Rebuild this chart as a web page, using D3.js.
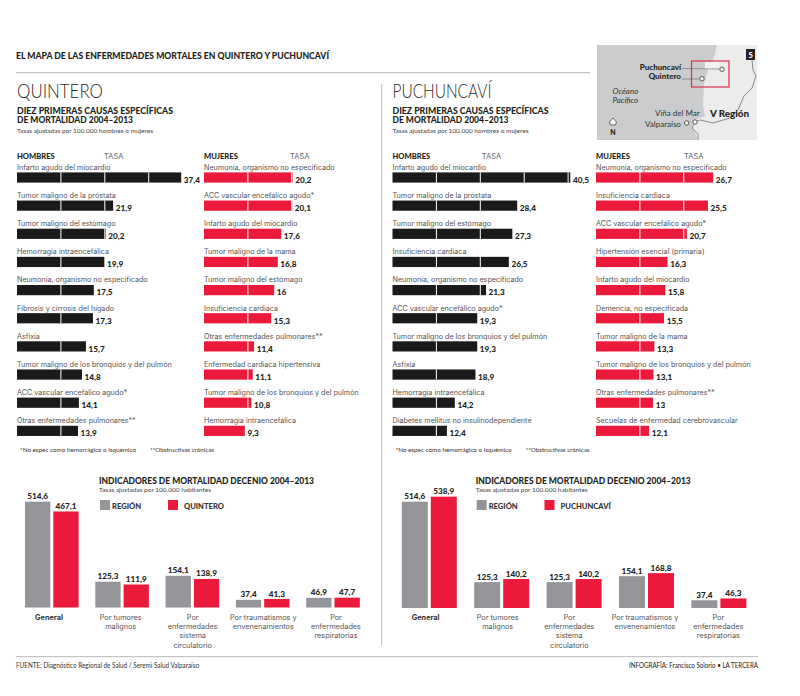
<!DOCTYPE html>
<html><head><meta charset="utf-8">
<script src="https://cdn.jsdelivr.net/npm/d3@7"></script>
<style>html,body{margin:0;padding:0;background:#fff}svg{display:block}text{font-family:Lato,sans-serif}</style>
</head><body><svg id="c" width="800" height="696"></svg>
<script>
const quinteroHombresCausas=["Infarto agudo del miocardio","Tumor maligno de la próstata","Tumor maligno del estómago","Hemorragia intraencefálica","Neumonía, organismo no especificado","Fibrosis y cirrosis del hígado","Asfixia","Tumor maligno de los bronquios y del pulmón","ACC vascular encefálico agudo*","Otras enfermedades pulmonares**"];
const quinteroHombresTasa=[37.4,21.9,20.2,19.9,17.5,17.3,15.7,14.8,14.1,13.9];
const quinteroMujeresCausas=["Neumonía, organismo no especificado","ACC vascular encefálico agudo*","Infarto agudo del miocardio","Tumor maligno de la mama","Tumor maligno del estómago","Insuficiencia cardiaca","Otras enfermedades pulmonares**","Enfermedad cardiaca hipertensiva","Tumor maligno de los bronquios y del pulmón","Hemorragia intraencefálica"];
const quinteroMujeresTasa=[20.2,20.1,17.6,16.8,16,15.3,11.4,11.1,10.8,9.3];
const puchuncaviHombresCausas=["Infarto agudo del miocardio","Tumor maligno de la próstata","Tumor maligno del estómago","Insuficiencia cardiaca","Neumonía, organismo no especificado","ACC vascular encefálico agudo*","Tumor maligno de los bronquios y del pulmón","Asfixia","Hemorragia intraencefálica","Diabetes mellitus no insulinodependiente"];
const puchuncaviHombresTasa=[40.5,28.4,27.3,26.5,21.3,19.3,19.3,18.9,14.2,12.4];
const puchuncaviMujeresCausas=["Neumonía, organismo no especificado","Insuficiencia cardiaca","ACC vascular encefálico agudo*","Hipertensión esencial (primaria)","Infarto agudo del miocardio","Demencia, no especificada","Tumor maligno de la mama","Tumor maligno de los bronquios y del pulmón","Otras enfermedades pulmonares**","Secuelas de enfermedad cerebrovascular"];
const puchuncaviMujeresTasa=[26.7,25.5,20.7,16.3,15.8,15.5,13.3,13.1,13,12.1];
const indicadores=[["General"],["Por tumores","malignos"],["Por","enfermedades","sistema","circulatorio"],["Por traumatismos y","envenenamientos"],["Por","enfermedades","respiratorias"]];
const quinteroRegion=[514.6,125.3,154.1,37.4,46.9];
const quinteroLocal=[467.1,111.9,138.9,41.3,47.7];
const puchuncaviRegion=[514.6,125.3,125.3,154.1,37.4];
const puchuncaviLocal=[538.9,140.2,140.2,168.8,46.3];
const fmt=v=>String(v).replace(".",",");
const BLACK="#1a1a1a",RED="#ec1a3a",GREY="#939598",INK="#231f20",LIGHT="#4a4a4a",BODY="Inter,sans-serif";
const svg=d3.select("#c");
function txt(g,x,y,s,o={}){return g.append("text").attr("x",x).attr("y",y).text(s)
 .attr("font-size",o.size||9).attr("font-weight",o.w||400).attr("fill",o.fill||LIGHT)
 .style("font-family",o.ff||null)
 .attr("text-anchor",o.a||"start").attr("textLength",o.len||null).attr("lengthAdjust",o.len?"spacingAndGlyphs":null);}

// header
txt(svg,16,58.5,"EL MAPA DE LAS ENFERMEDADES MORTALES EN QUINTERO Y PUCHUNCAVÍ",{size:9.5,w:900,fill:INK,len:313});
svg.append("rect").attr("x",16).attr("y",72).attr("width",574).attr("height",1.2).attr("fill","#c4c4c4");
svg.append("rect").attr("x",381.2).attr("y",84).attr("width",1).attr("height",561).attr("fill","#bdbdbd");
svg.append("rect").attr("x",16).attr("y",656).attr("width",742).attr("height",1.2).attr("fill","#c4c4c4");
txt(svg,16,668,"FUENTE: Diagnóstico Regional de Salud / Seremi Salud Valparaíso",{size:7,fill:"#333",len:183});
txt(svg,629,668,"INFOGRAFÍA: Francisco Solorio • LA TERCERA",{size:7,fill:"#222",len:129});

function hbars(g,x0,causas,tasa,color){
 const x=d3.scaleLinear().domain([0,10]).range([0,43.9]);
 const y=d3.scaleBand().domain(d3.range(10)).range([172.4,172.4+281.5]);
 const gg=g.append("g").attr("transform",`translate(${x0},0)`);
 causas.forEach((c,i)=>{
  const yy=y(i);
  gg.append("rect").attr("x",0).attr("y",yy).attr("width",x(tasa[i])).attr("height",10.2).attr("fill",color);
  d3.range(10,tasa[i],10).forEach(t=>gg.append("rect").attr("x",x(t)-.5).attr("y",yy).attr("width",1).attr("height",10.2).attr("fill","#fff"));
  txt(gg,0,yy-2.6,c,{size:7.2,w:400,fill:"#555",ff:BODY});
  txt(gg,x(tasa[i])+2.6,yy+10.4,fmt(tasa[i]),{size:8.2,w:900,fill:INK});
 });
}
function panel(x0,name,hC,hT,mC,mT,mx,tx1,tx2){
 const g=svg.append("g");
 txt(g,x0,97.8,name,{size:19,w:300,fill:"#2a2a2a",len:name.length>8?99:86});
 txt(g,x0,113.6,"DIEZ PRIMERAS CAUSAS ESPECÍFICAS",{size:8.6,w:900,fill:INK,len:156});
 txt(g,x0,123.3,"DE MORTALIDAD 2004–2013",{size:8.6,w:900,fill:INK,len:116});
 txt(g,x0,132.5,"Tasas ajustadas por 100.000 hombres o mujeres",{size:6.2,w:400,fill:"#444",len:136});
 txt(g,x0,159.3,"HOMBRES",{size:7.6,w:900,fill:INK});
 txt(g,tx1,159.3,"TASA",{size:7.6,w:400,fill:"#666",ff:BODY,len:19.5});
 txt(g,mx,159.3,"MUJERES",{size:7.6,w:900,fill:INK});
 txt(g,tx2,159.3,"TASA",{size:7.6,w:400,fill:"#666",ff:BODY,len:19.5});
 hbars(g,x0,hC,hT,BLACK); hbars(g,mx,mC,mT,RED);
 txt(g,x0+3,451.7,"*No espec como hemorrágico o isquémico",{size:6.2,fill:"#333",len:116});
 txt(g,x0+133,451.7,"**Obstructivas crónicas",{size:6.2,fill:"#333",len:64});
}
panel(17,"QUINTERO",quinteroHombresCausas,quinteroHombresTasa,quinteroMujeresCausas,quinteroMujeresTasa,204,104,290);
panel(392.5,"PUCHUNCAVÍ",puchuncaviHombresCausas,puchuncaviHombresTasa,puchuncaviMujeresCausas,puchuncaviMujeresTasa,596,481.7,684);

function vbars(tx,name,reg,loc,x0,pitch,bw,red2,base,k,lx2,lc){
 const g=svg.append("g");
 txt(g,tx,483.5,"INDICADORES DE MORTALIDAD DECENIO 2004–2013",{size:9,w:900,fill:INK,len:215});
 txt(g,tx,492,"Tasas ajustadas por 100.000 habitantes",{size:6.2,fill:"#444",len:112});
 g.append("rect").attr("x",tx+1).attr("y",500).attr("width",10).attr("height",10).attr("fill",GREY);
 txt(g,tx+13,509,"REGIÓN",{size:7.6,w:900,fill:"#333"});
 g.append("rect").attr("x",lx2).attr("y",500).attr("width",10).attr("height",10).attr("fill",RED);
 txt(g,lx2+16,509,name,{size:7.6,w:900,fill:"#333"});
 const y=d3.scaleLinear().domain([0,514.6]).range([base,base-k]);
 indicadores.forEach((lab,i)=>{
  const x=x0+i*pitch;
  [[reg[i],GREY,x],[loc[i],RED,x+red2]].forEach(([v,c,xx])=>{
   g.append("rect").attr("x",xx).attr("y",y(v)).attr("width",bw).attr("height",base-y(v)).attr("fill",c);
   txt(g,xx+bw/2,y(v)-2.5,fmt(v),{size:8.2,w:900,fill:INK,a:"middle"});
  });
  lab.forEach((l,j)=>txt(g,lc[i],619.5+j*9.4,l,{size:7.3,w:i==0?700:400,fill:i==0?"#333":"#555",a:"middle",ff:BODY}));
 });
}
vbars(99,"QUINTERO",quinteroRegion,quinteroLocal,25,70.3,25.3,28.3,607.5,105.8,168,[49,120.7,192.7,263.3,336]);
vbars(475.7,"PUCHUNCAVÍ",puchuncaviRegion,puchuncaviLocal,401.8,72.4,26,29,608,106.3,544.5,[425.7,497.7,569.3,645,718.3]);

// map
const mapSea=[[597,45],[717,45],[714,58],[708,70],[704,84],[703,105],[705,116],[697,119],[692,124],[597,140]];
const mapSeaLow=[[597,124],[692,124],[694,130],[698,140],[597,140]];
const mapRoad=[[752,60],[753,70],[756,76],[752,88],[744,96],[738,110],[730,118],[713,123],[700,120],[695,122]];
const mapRoad2=[[695,122],[692,128],[698,134],[698,140]];
const m=svg.append("g");
m.append("rect").attr("x",597).attr("y",45).attr("width",160).attr("height",95).attr("fill","#ececec");
const ln=d3.line();
m.append("path").attr("d",ln(mapSea)+"Z").attr("fill","#cbcccd");
m.append("path").attr("d",ln(mapSeaLow)+"Z").attr("fill","#cbcccd");
m.append("path").attr("d",ln([[705,62],[718,62],[718,69],[705,69]])+"Z").attr("fill","#f2f2f2");
m.append("path").attr("d",ln(mapRoad)).attr("fill","none").attr("stroke","#8a8a8a").attr("stroke-width",1);
m.append("path").attr("d",ln(mapRoad2)).attr("fill","none").attr("stroke","#8a8a8a").attr("stroke-width",1);
m.append("rect").attr("x",691.5).attr("y",61).attr("width",37.5).attr("height",26).attr("fill","none").attr("stroke","#e0314f").attr("stroke-width",1.2);
m.append("rect").attr("x",746).attr("y",49).attr("width",9).attr("height",11).attr("fill","#222");
txt(m,750.5,58,"5",{size:8,w:900,fill:"#fff",a:"middle"});
m.append("line").attr("x1",682).attr("y1",68.5).attr("x2",719).attr("y2",69).attr("stroke","#666").attr("stroke-width",.6);
m.append("line").attr("x1",682).attr("y1",79).attr("x2",699).attr("y2",79).attr("stroke","#666").attr("stroke-width",.6);
[[722,69.3],[702,78.7],[686.7,123],[695,122]].forEach(p=>m.append("circle").attr("cx",p[0]).attr("cy",p[1]).attr("r",2.2).attr("fill","#fff").attr("stroke","#333").attr("stroke-width",.8));
txt(m,681,69.5,"Puchuncaví",{size:8,w:900,fill:INK,a:"end"});
txt(m,681,79,"Quintero",{size:8,w:900,fill:INK,a:"end"});
txt(m,612.5,94,"Océano",{size:8,w:400,fill:"#333"}).attr("font-style","italic");
txt(m,612.5,102.7,"Pacífico",{size:8,w:400,fill:"#333"}).attr("font-style","italic");
txt(m,655,116,"Viña del Mar",{size:8,w:400,fill:"#333"});
txt(m,645,127,"Valparaíso",{size:8,w:400,fill:"#333"});
txt(m,710,116.5,"V Región",{size:9.8,w:900,fill:INK});
m.append("path").attr("d",d3.line()([[613,118],[616.5,122],[615.5,125],[610.5,125],[609.5,122]])+"Z").attr("fill","#fff").attr("stroke","#333").attr("stroke-width",.7);
txt(m,613,135,"N",{size:7,w:900,fill:INK,a:"middle"});
</script></body></html>
